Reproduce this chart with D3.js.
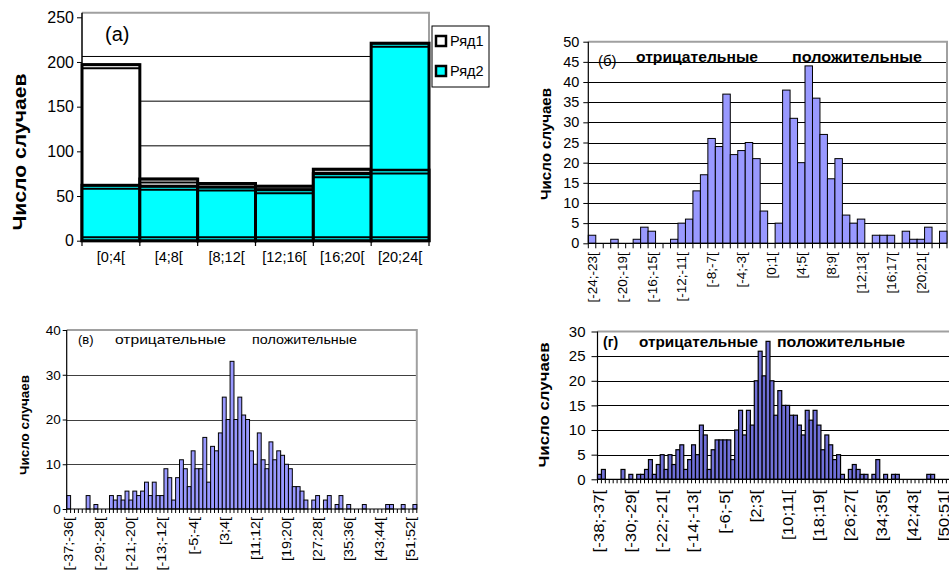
<!DOCTYPE html>
<html lang="ru">
<head>
<meta charset="utf-8">
<title>Число случаев</title>
<script src="https://cdn.jsdelivr.net/npm/d3@7/dist/d3.min.js"></script>
<style>
  html, body { margin: 0; padding: 0; background: #fff; }
  svg { display: block; }
</style>
</head>
<body>
<svg id="chart" width="949" height="575"></svg>
<script>
// ---------- data ----------
// (а) four-hour intervals of the day, two series
const hourBins = ["[0;4[", "[4;8[", "[8;12[", "[12;16[", "[16;20[", "[20;24["];
const seriesNames = ["Ряд1", "Ряд2"];
const row1 = [197, 69, 64, 61, 80, 79];
const row2 = [62, 61, 60, 57, 75, 221];
const ticksA = [0, 50, 100, 150, 200, 250];

// (б) unit bins from -24 to 24
const binStartsB = d3.range(-24, 24);
const countsB = [2, 0, 0, 1, 0, 0, 1, 4, 3, 0,
                 0, 1, 5, 6, 13, 17, 26, 24, 37, 22,
                 23, 25, 21, 8, 0, 5, 38, 31, 20, 44,
                 36, 27, 16, 21, 7, 5, 6, 0, 2, 2,
                 2, 0, 3, 1, 1, 4, 0, 3];
const tickLabelsB = ["[-24;-23[", "[-20;-19[", "[-16;-15[", "[-12;-11[", "[-8;-7[", "[-4;-3[",
                     "[0;1[", "[4;5[", "[8;9[", "[12;13[", "[16;17[", "[20;21["];
const ticksB = [0, 5, 10, 15, 20, 25, 30, 35, 40, 45, 50];

// (в) unit bins from -37 to 53
const binStartsC = d3.range(-37, 53);
const countsC = [3, 0, 0, 0, 0, 3, 0, 1, 0, 0,
                 0, 3, 2, 3, 2, 4, 2, 4, 3, 4,
                 6, 3, 6, 3, 3, 9, 7, 2, 7, 11,
                 9, 5, 13, 9, 9, 16, 6, 14, 13, 17,
                 25, 20, 33, 20, 25, 21, 20, 13, 10, 17,
                 11, 9, 15, 11, 13, 12, 10, 9, 5, 5,
                 4, 2, 0, 2, 3, 0, 2, 3, 0, 1,
                 3, 0, 1, 0, 0, 0, 1, 0, 0, 0,
                 0, 0, 1, 1, 0, 0, 1, 0, 0, 1];
const tickLabelsC = ["[-37;-36[", "[-29;-28[", "[-21;-20[", "[-13;-12[", "[-5;-4[", "[3;4[",
                     "[11;12[", "[19;20[", "[27;28[", "[35;36[", "[43;44[", "[51;52["];
const ticksC = [0, 10, 20, 30, 40];

// (г) unit bins from -38 to 52
const binStartsD = d3.range(-38, 52);
const countsD = [1, 2, 0, 0, 0, 0, 2, 0, 1, 0,
                 1, 1, 2, 4, 1, 3, 5, 2, 5, 3,
                 6, 7, 2, 4, 7, 5, 11, 9, 2, 6,
                 8, 8, 8, 8, 4, 10, 14, 9, 14, 11,
                 20, 26, 21, 28, 20, 13, 18, 15, 15, 13,
                 13, 11, 9, 14, 12, 14, 11, 6, 9, 7,
                 4, 5, 1, 0, 2, 3, 2, 1, 1, 0,
                 1, 4, 0, 1, 0, 1, 1, 0, 0, 0,
                 0, 0, 0, 0, 1, 1, 0, 0, 0, 0];
const tickLabelsD = ["[-38;-37[", "[-30;-29[", "[-22;-21[", "[-14;-13[", "[-6;-5[", "[2;3[",
                     "[10;11[", "[18;19[", "[26;27[", "[34;35[", "[42;43[", "[50;51["];
const ticksD = [0, 5, 10, 15, 20, 25, 30];

const headNeg = "отрицательные";
const headPos = "положительные";
const axisTitle = "Число случаев";

// ---------- drawing ----------
const FONT = "Arial, 'Liberation Sans', Helvetica, sans-serif";
const svg = d3.select("#chart").attr("font-family", FONT);
const binName = a => `[${a};${a + 1}[`;

// stretch text along its own direction, like the wide screen rendering of the labels
function widen(sel, k) {
  sel.each(function () {
    const len = this.getComputedTextLength();
    d3.select(this).attr("textLength", (len * k).toFixed(1)).attr("lengthAdjust", "spacingAndGlyphs");
  });
}

function histogram(p) {
  const cats = p.starts.map(binName);
  const x = d3.scaleBand(cats, [p.left, p.right]);
  const y = d3.scaleLinear([0, p.max], [p.bottom, p.top]);
  const bw = x.bandwidth();
  const g = svg.append("g");

  // horizontal gridlines
  g.append("g").selectAll("line")
    .data(p.ticks.filter(t => t > 0 && t < p.max)).join("line")
    .attr("x1", p.left).attr("x2", p.frameRight)
    .attr("y1", d => Math.round(y(d)) + 0.5).attr("y2", d => Math.round(y(d)) + 0.5)
    .attr("stroke", p.grid).attr("stroke-width", 1);

  // plot area border, top and right
  g.append("path")
    .attr("d", `M${p.left},${y(p.max)}H${p.frameRight}V${p.bottom}`)
    .attr("fill", "none").attr("stroke", "#a0a0a0").attr("stroke-width", 2);

  // bars
  const bars = cats.map((c, i) => ({ c, v: p.values[i] })).filter(d => d.v > 0);
  g.append("g").selectAll("rect").data(bars).join("rect")
    .attr("x", d => x(d.c)).attr("width", bw)
    .attr("y", d => y(d.v)).attr("height", d => y(0) - y(d.v))
    .attr("fill", p.fill).attr("stroke", "#000").attr("stroke-width", p.barStroke);

  // axis lines
  g.append("line").attr("x1", p.left).attr("x2", p.left).attr("y1", p.top).attr("y2", p.bottom)
    .attr("stroke", "#000").attr("stroke-width", 1.2);
  g.append("line").attr("x1", p.left).attr("x2", p.right).attr("y1", p.bottom).attr("y2", p.bottom)
    .attr("stroke", "#000").attr("stroke-width", 1.2);

  // category boundary ticks
  const edges = cats.map(c => x(c)).concat([x(cats[cats.length - 1]) + bw]);
  g.append("g").selectAll("line").data(edges).join("line")
    .attr("x1", d => d).attr("x2", d => d)
    .attr("y1", p.bottom).attr("y2", p.bottom + p.xTick)
    .attr("stroke", "#000").attr("stroke-width", 1);

  // value axis
  const ya = g.append("g").attr("transform", `translate(${p.left},0)`)
    .call(d3.axisLeft(y).tickValues(p.ticks).tickSize(p.yTick).tickPadding(p.yPad));
  ya.attr("font-family", FONT).attr("font-size", p.yFont);
  ya.select(".domain").remove();
  ya.selectAll("line").attr("stroke", "#000");
  ya.selectAll("text").attr("fill", "#000");
  if (p.yWiden) widen(ya.selectAll("text"), p.yWiden);

  // category labels, rotated
  const xa = g.append("g").attr("transform", `translate(0,${p.bottom + p.labelGap})`)
    .call(d3.axisBottom(x).tickValues(p.labels).tickSize(0).tickPadding(0));
  xa.attr("font-family", FONT).attr("font-size", p.xFont);
  xa.select(".domain").remove();
  xa.selectAll("text").attr("fill", "#000")
    .attr("transform", "rotate(-90)").attr("text-anchor", "end")
    .attr("x", 0).attr("y", 0).attr("dy", "0.35em");
  if (p.xWiden) widen(xa.selectAll("text"), p.xWiden);

  // axis title
  g.append("text")
    .attr("transform", `translate(${p.titleX},${p.titleY}) rotate(-90)`)
    .attr("text-anchor", "middle").attr("dy", "0.35em")
    .attr("font-weight", "bold").attr("font-size", p.titleFont)
    .attr("textLength", p.titleLen).attr("lengthAdjust", "spacingAndGlyphs")
    .text(axisTitle);

  // panel headers
  p.heads.forEach(h => {
    const t = g.append("text").attr("x", h.x).attr("y", h.y)
      .attr("font-size", h.size).attr("font-weight", h.bold ? "bold" : "normal")
      .attr("fill", "#000").text(h.text);
    if (h.len) t.attr("textLength", h.len).attr("lengthAdjust", "spacingAndGlyphs");
  });
}

// ----- panel (а): 3-D style columns -----
(function () {
  const g = svg.append("g");
  const x = d3.scaleBand(hourBins, [82, 429]);
  const y = d3.scaleLinear([0, 250], [240.7, 17.3]);
  const bw = x.bandwidth();
  const wall = -5.5;   // back wall sits a little above the value ticks
  const depth = 3.5;   // visible top face of each column

  g.append("g").selectAll("line")
    .data(ticksA.filter(t => t > 0 && t < 250)).join("line")
    .attr("x1", 82).attr("x2", 429)
    .attr("y1", d => y(d) + wall).attr("y2", d => y(d) + wall)
    .attr("stroke", "#000").attr("stroke-width", 1);

  g.append("path").attr("d", `M82,${y(250) + wall + 1}H429V241`)
    .attr("fill", "none").attr("stroke", "#a0a0a0").attr("stroke-width", 2);

  const rows = hourBins.map((c, i) => ({ c, a: row1[i], b: row2[i] }));

  // Ряд1 bodies
  g.append("g").selectAll("rect").data(rows).join("rect")
    .attr("x", d => x(d.c)).attr("width", bw)
    .attr("y", d => y(d.a)).attr("height", d => y(0) - y(d.a))
    .attr("fill", "#fff").attr("stroke", "#000").attr("stroke-width", 3);
  // Ряд2 bodies
  g.append("g").selectAll("rect").data(rows).join("rect")
    .attr("x", d => x(d.c)).attr("width", bw)
    .attr("y", d => y(d.b)).attr("height", d => y(0) - y(d.b))
    .attr("fill", "#00ffff").attr("stroke", "#000").attr("stroke-width", 3);

  // top edges of both series (front and rear edge of the top face)
  const tops = rows.flatMap(d => [{ c: d.c, v: d.a }, { c: d.c, v: d.b }]);
  g.append("g").selectAll("line").data(tops).join("line")
    .attr("x1", d => x(d.c)).attr("x2", d => x(d.c) + bw)
    .attr("y1", d => y(d.v)).attr("y2", d => y(d.v))
    .attr("stroke", "#000").attr("stroke-width", 2.5);
  g.append("g").selectAll("line").data(tops).join("line")
    .attr("x1", d => x(d.c)).attr("x2", d => x(d.c) + bw)
    .attr("y1", d => y(d.v) + depth).attr("y2", d => y(d.v) + depth)
    .attr("stroke", "#000").attr("stroke-width", 2);
  // floor edge
  g.append("line").attr("x1", 82).attr("x2", 429)
    .attr("y1", y(0) - depth).attr("y2", y(0) - depth)
    .attr("stroke", "#000").attr("stroke-width", 2);

  // value axis
  g.append("line").attr("x1", 82).attr("x2", 82).attr("y1", y(250) + wall + 1).attr("y2", 241)
    .attr("stroke", "#000").attr("stroke-width", 1.5);
  const ya = g.append("g").attr("transform", "translate(82,0)")
    .call(d3.axisLeft(y).tickValues(ticksA).tickSize(5).tickPadding(3));
  ya.attr("font-family", FONT).attr("font-size", 16);
  ya.select(".domain").remove();
  ya.selectAll("line").attr("stroke", "#000");
  ya.selectAll("text").attr("fill", "#000");

  // category axis
  const edges = hourBins.map(c => x(c)).concat([429]);
  g.append("g").selectAll("line").data(edges).join("line")
    .attr("x1", d => d).attr("x2", d => d).attr("y1", 241).attr("y2", 246)
    .attr("stroke", "#000").attr("stroke-width", 1.2);
  const xa = g.append("g").attr("transform", "translate(0,252)")
    .call(d3.axisBottom(x).tickSize(0).tickPadding(0));
  xa.attr("font-family", FONT).attr("font-size", 14.5);
  xa.select(".domain").remove();
  xa.selectAll("text").attr("fill", "#000").attr("dy", "0.71em");

  // legend
  const lg = g.append("g");
  lg.append("rect").attr("x", 432).attr("y", 26).attr("width", 57).attr("height", 61)
    .attr("fill", "#fff").attr("stroke", "#000").attr("stroke-width", 1);
  const legendFill = ["#fff", "#00ffff"];
  seriesNames.forEach((name, i) => {
    lg.append("rect").attr("x", 436).attr("y", 36 + i * 30).attr("width", 10).attr("height", 10)
      .attr("fill", legendFill[i]).attr("stroke", "#000").attr("stroke-width", 2.5);
    lg.append("text").attr("x", 450).attr("y", 41 + i * 30).attr("dy", "0.35em")
      .attr("font-size", 14.5).attr("fill", "#000").text(name);
  });

  g.append("text").attr("x", 105).attr("y", 41).attr("font-size", 20).attr("fill", "#000").text("(а)");

  g.append("text").attr("transform", "translate(19,152) rotate(-90)")
    .attr("text-anchor", "middle").attr("dy", "0.35em")
    .attr("font-weight", "bold").attr("font-size", 19)
    .attr("textLength", 157).attr("lengthAdjust", "spacingAndGlyphs")
    .text(axisTitle);
})();

// ----- panel (б) -----
histogram({
  starts: binStartsB, values: countsB, labels: tickLabelsB, ticks: ticksB, max: 50,
  left: 588.3, right: 947, frameRight: 947, bottom: 243.3, top: 41.7,
  fill: "#9999ff", barStroke: 1, grid: "#000",
  xTick: 5, yTick: 5, yPad: 4, yFont: 14.5, xFont: 13.5, labelGap: 9,
  titleX: 546, titleY: 144, titleFont: 14.5, titleLen: 112,
  heads: [
    { text: "(б)", x: 598, y: 66, size: 15 },
    { text: headNeg, x: 636, y: 61.5, size: 14.5, bold: true, len: 122 },
    { text: headPos, x: 792, y: 61.5, size: 14.5, bold: true, len: 130 }
  ]
});

// ----- panel (в) -----
histogram({
  starts: binStartsC, values: countsC, labels: tickLabelsC, ticks: ticksC, max: 40,
  left: 66.7, right: 416.8, frameRight: 416.8, bottom: 509, top: 330,
  fill: "#9999ff", barStroke: 1, grid: "#404040",
  xTick: 4, yTick: 4, yPad: 2, yFont: 13.5, xFont: 12.5, xWiden: 1.15, labelGap: 8,
  titleX: 24, titleY: 425, titleFont: 13, titleLen: 100,
  heads: [
    { text: "(в)", x: 78, y: 344, size: 13 },
    { text: headNeg, x: 115, y: 344, size: 13, len: 111 },
    { text: headPos, x: 252, y: 344, size: 13, len: 105 }
  ]
});

// ----- panel (г) -----
histogram({
  starts: binStartsD, values: countsD, labels: tickLabelsD, ticks: ticksD, max: 30,
  left: 597.5, right: 950.3, frameRight: 950.3, bottom: 479.3, top: 331.5,
  fill: "#7070d8", barStroke: 1.2, grid: "#000",
  xTick: 4, yTick: 6, yPad: 6, yFont: 15, xFont: 14, xWiden: 1.2, labelGap: 10.5,
  titleX: 544, titleY: 405, titleFont: 15.5, titleLen: 125,
  heads: [
    { text: "(г)", x: 603, y: 347, size: 14, bold: true },
    { text: headNeg, x: 639, y: 347, size: 14, bold: true, len: 119 },
    { text: headPos, x: 777, y: 347, size: 14, bold: true, len: 128 }
  ]
});
</script>
</body>
</html>
